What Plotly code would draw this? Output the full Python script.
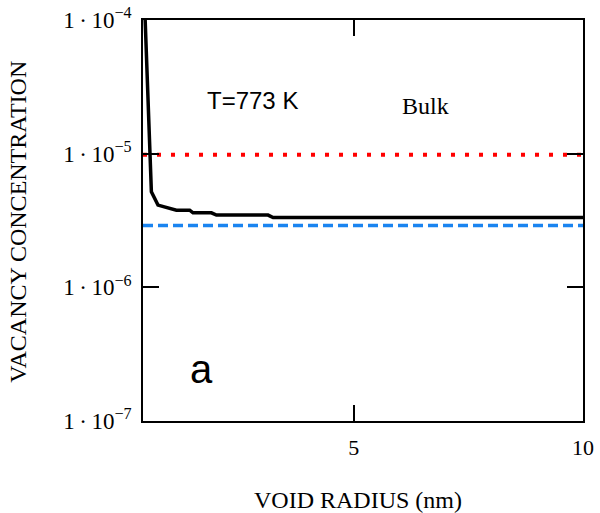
import plotly.graph_objects as go

# void radius (nm) and equilibrium vacancy concentration near the void
radius_nm = [0.42, 0.447, 0.557, 0.583, 0.727, 1.129, 1.419, 1.491, 1.893,
             2.002, 3.129, 3.238, 10.0]
vacancy_conc = [1.8e-4, 1.0e-4, 1.0e-5, 5.19e-6, 4.12e-6, 3.78e-6, 3.78e-6,
                3.61e-6, 3.61e-6, 3.47e-6, 3.47e-6, 3.33e-6, 3.33e-6]

# horizontal reference levels
x_span = [0.4, 10.0]
upper_level = [9.8e-6, 9.8e-6]
bulk_level = [2.9e-6, 2.9e-6]

x_ticks = [5, 10]
x_tick_text = ["5", "10"]
y_ticks = [1e-7, 1e-6, 1e-5, 1e-4]
y_exponents = ["7", "6", "5", "4"]

SERIF = "Liberation Serif, Times New Roman, serif"
SANS = "Liberation Sans, Arial, sans-serif"

y_tick_text = ["1\u2009\u00b7\u200910<sup>\u2212" + e + "</sup>" for e in y_exponents]

fig = go.Figure()
fig.add_trace(go.Scatter(x=x_span, y=upper_level, mode="lines",
                         line=dict(color="#ff0000", width=4, dash="4px,10px"),
                         showlegend=False))
fig.add_trace(go.Scatter(x=x_span, y=bulk_level, mode="lines",
                         line=dict(color="#1a84f0", width=3.5, dash="10px,5px"),
                         showlegend=False))
fig.add_trace(go.Scatter(x=radius_nm, y=vacancy_conc, mode="lines",
                         line=dict(color="black", width=3.5),
                         showlegend=False))

axis_common = dict(showline=True, linecolor="black", linewidth=1.5,
                   mirror="ticks", ticks="inside", ticklen=16, tickwidth=1.5,
                   tickcolor="black", showgrid=False, zeroline=False,
                   automargin=False)

fig.update_xaxes(range=x_span, tickvals=x_ticks, ticktext=x_tick_text,
                 ticklabelstandoff=6,
                 tickfont=dict(family=SERIF, size=22, color="black"),
                 **axis_common)
fig.update_yaxes(type="log", range=[-7, -4], tickvals=y_ticks,
                 ticktext=y_tick_text, ticklabelstandoff=5,
                 tickfont=dict(family=SERIF, size=23, color="black"),
                 **axis_common)

annotations = [
    dict(text="VACANCY CONCENTRATION", x=-0.284, y=0.497, textangle=-90,
         font=dict(family=SERIF, size=24)),
    dict(text="VOID RADIUS (nm)", x=0.489, y=-0.197,
         font=dict(family=SERIF, size=24)),
    dict(text="T=773 K", x=0.141, y=0.8, xanchor="left",
         font=dict(family=SANS, size=24)),
    dict(text="Bulk", x=0.584, y=0.786, xanchor="left",
         font=dict(family=SERIF, size=24)),
    dict(text="a", x=0.102, y=0.13, xanchor="left",
         font=dict(family=SANS, size=40)),
]
for a in annotations:
    a.setdefault("xanchor", "center")
    a.update(xref="paper", yref="paper", yanchor="middle", showarrow=False)
    a["font"]["color"] = "black"

fig.update_layout(width=600, height=513, margin=dict(l=143, r=17, t=20, b=92),
                  paper_bgcolor="white", plot_bgcolor="white",
                  annotations=annotations)

fig.write_html("out.html")
